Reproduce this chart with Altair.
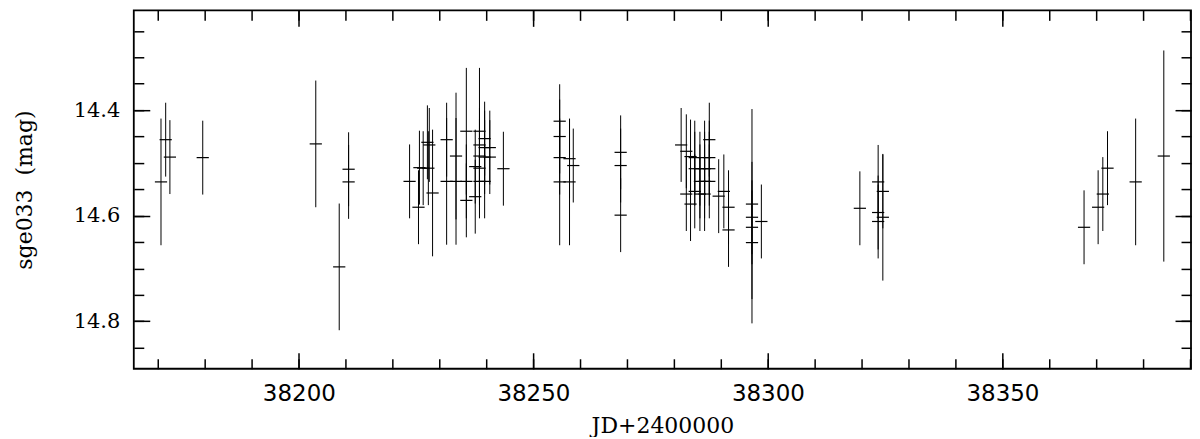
import altair as alt
import pandas as pd

# Julian date offsets (JD - 2400000), magnitudes and 1-sigma errors
days = [38170.6, 38171.6, 38172.5, 38179.5, 38203.6, 38208.6, 38210.6, 38210.6,
        38223.6, 38225.5, 38225.7, 38226.5, 38227.4, 38227.8, 38227.6, 38228.5,
        38231.5, 38231.5, 38233.5, 38233.5, 38235.7, 38235.7, 38235.7, 38237.6,
        38237.6, 38238.5, 38238.5, 38238.5, 38238.5, 38238.5, 38239.6, 38239.6,
        38239.6, 38239.6, 38240.7, 38240.7, 38243.6,
        38255.6, 38255.6, 38255.6, 38255.6, 38257.7, 38257.7, 38258.5,
        38268.6, 38268.6, 38268.6,
        38281.5, 38282.6, 38282.6, 38283.5, 38283.5, 38284.4, 38284.4, 38284.4,
        38285.5, 38285.5, 38285.5, 38286.5, 38286.5, 38286.5, 38286.5,
        38287.5, 38287.5, 38287.5, 38287.5, 38289.5, 38290.6, 38291.6, 38291.6,
        38296.6, 38296.6, 38296.6, 38296.6, 38298.6,
        38319.6, 38323.5, 38323.5, 38323.5, 38324.5, 38324.5,
        38367.4, 38370.4, 38371.4, 38372.4, 38378.4, 38384.4]
mags = [14.536, 14.456, 14.489, 14.490, 14.464, 14.697, 14.512, 14.536,
        14.535, 14.584, 14.509, 14.510, 14.461, 14.466, 14.510, 14.557,
        14.456, 14.535, 14.487, 14.535, 14.440, 14.535, 14.571, 14.507,
        14.564, 14.440, 14.466, 14.487, 14.510, 14.535, 14.454, 14.471,
        14.489, 14.535, 14.471, 14.489, 14.511,
        14.421, 14.450, 14.490, 14.536, 14.492, 14.536, 14.505,
        14.480, 14.505, 14.599,
        14.466, 14.478, 14.559, 14.488, 14.578, 14.490, 14.511, 14.554,
        14.511, 14.535, 14.559, 14.490, 14.511, 14.535, 14.559,
        14.456, 14.490, 14.511, 14.535, 14.563, 14.554, 14.584, 14.627,
        14.578, 14.603, 14.622, 14.651, 14.611,
        14.586, 14.536, 14.594, 14.611, 14.554, 14.603,
        14.622, 14.584, 14.559, 14.510, 14.536, 14.487]
errs = [0.12, 0.07, 0.07, 0.07, 0.12, 0.12, 0.07, 0.07,
        0.07, 0.07, 0.07, 0.07, 0.07, 0.07, 0.07, 0.12,
        0.07, 0.12, 0.12, 0.12, 0.12, 0.07, 0.07, 0.07,
        0.07, 0.12, 0.07, 0.07, 0.07, 0.07, 0.07, 0.07,
        0.07, 0.07, 0.07, 0.07, 0.07,
        0.07, 0.07, 0.07, 0.12, 0.075, 0.12, 0.07,
        0.07, 0.07, 0.07,
        0.07, 0.07, 0.07, 0.07, 0.07, 0.07, 0.07, 0.07,
        0.07, 0.07, 0.07, 0.07, 0.07, 0.07, 0.07,
        0.07, 0.07, 0.07, 0.07, 0.07, 0.07, 0.07, 0.07,
        0.18, 0.07, 0.07, 0.153, 0.07,
        0.07, 0.07, 0.07, 0.07, 0.07, 0.12,
        0.07, 0.07, 0.07, 0.07, 0.12, 0.20]

x_major = [38200, 38250, 38300, 38350]
x_minor = [38170, 38180, 38190, 38200, 38210, 38220, 38230, 38240, 38250, 38260,
           38270, 38280, 38290, 38300, 38310, 38320, 38330, 38340, 38350, 38360,
           38370, 38380, 38390]
y_major = [14.4, 14.6, 14.8]
y_minor = [14.25, 14.3, 14.35, 14.4, 14.45, 14.5, 14.55, 14.6, 14.65, 14.7,
           14.75, 14.8, 14.85]

x_domain = [38164.8, 38390.2]
y_domain = [14.211, 14.890]

df = pd.DataFrame({"jd": days, "mag": mags, "err": errs})
df["lo"] = df["mag"] - df["err"]
df["hi"] = df["mag"] + df["err"]

xscale = alt.Scale(domain=x_domain, nice=False, zero=False)
yscale = alt.Scale(domain=y_domain, nice=False, zero=False, reverse=True)

MAJ = 16
MIN = 10


def tick_axis(orient, values, size):
    return alt.Axis(orient=orient, values=values, tickSize=size, offset=-size,
                    labels=False, domain=False, grid=False)


x_bottom_major = alt.Axis(orient="bottom", values=x_major, tickSize=MAJ, offset=-MAJ,
                          domain=False, grid=False, labelFont="DejaVu Sans",
                          labelFontSize=23, labelPadding=14, format="d",
                          title="JD+2400000", titleFont="DejaVu Serif",
                          titleFontSize=22, titleFontWeight="normal", titlePadding=10)
y_left_major = alt.Axis(orient="left", values=y_major, tickSize=MAJ, offset=-MAJ,
                        domain=False, grid=False, labelFont="DejaVu Serif",
                        labelFontSize=21, labelPadding=14, format=".1f",
                        title="sge033\u00a0\u00a0(mag)", titleFont="DejaVu Serif",
                        titleFontSize=22, titleFontWeight="normal", titlePadding=37)

bars = alt.Chart(df).mark_rule(color="black", strokeWidth=1).encode(
    x=alt.X("jd:Q", scale=xscale, axis=x_bottom_major),
    y=alt.Y("lo:Q", scale=yscale, axis=y_left_major),
    y2="hi:Q",
)

crosses = alt.Chart(df).mark_point(
    shape="M -1 0 L 1 0", size=150, filled=False, color="black",
    strokeWidth=1.2, opacity=1
).encode(
    x=alt.X("jd:Q", scale=xscale, axis=tick_axis("bottom", x_minor, MIN), title=None),
    y=alt.Y("mag:Q", scale=yscale, axis=tick_axis("left", y_minor, MIN), title=None),
)

ghost_major = alt.Chart(df).mark_point(opacity=0).encode(
    x=alt.X("jd:Q", scale=xscale, axis=tick_axis("top", x_major, MAJ), title=None),
    y=alt.Y("mag:Q", scale=yscale, axis=tick_axis("right", y_major, MAJ), title=None),
)

ghost_minor = alt.Chart(df).mark_point(opacity=0).encode(
    x=alt.X("jd:Q", scale=xscale, axis=tick_axis("top", x_minor, MIN), title=None),
    y=alt.Y("mag:Q", scale=yscale, axis=tick_axis("right", y_minor, MIN), title=None),
)

chart = (
    alt.layer(bars, crosses, ghost_major, ghost_minor)
    .resolve_axis(x="independent", y="independent")
    .properties(width=1059, height=359,
                padding={"left": 5, "top": 1, "right": 0, "bottom": 0})
    .configure_view(stroke="black", strokeWidth=1.8)
    .configure_axis(tickColor="black", tickWidth=1.5, labelColor="black",
                    titleColor="black")
)

chart.save("out.html", embed_options={"renderer": "svg", "actions": False})
